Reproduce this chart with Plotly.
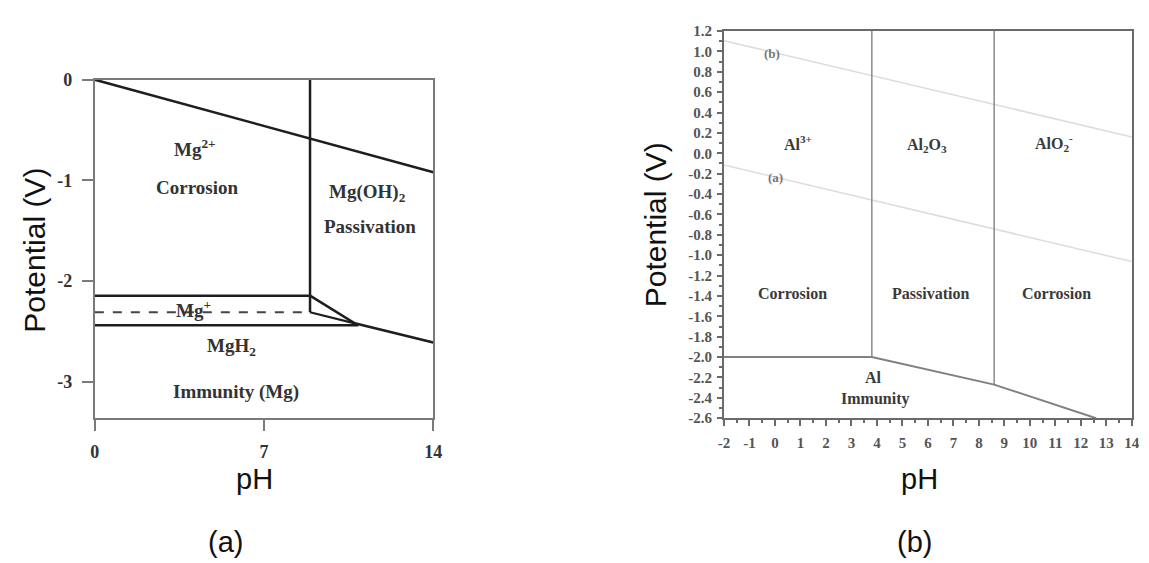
import plotly.graph_objects as go

W, H = 1149, 563

# ---------------- (a) Mg Pourbaix diagram data ----------------
mg_o2_ph = [0, 14]
mg_o2_v = [0, -0.92]
mg_vert_ph = [8.9, 8.9]
mg_vert_v = [0, -2.31]
mg_top_h_ph = [0, 8.9]
mg_top_h_v = [-2.145, -2.145]
mg_dash_ph = [0, 8.9]
mg_dash_v = [-2.31, -2.31]
mg_low_h_ph = [0, 10.9]
mg_low_h_v = [-2.44, -2.44]
mg_diag_ph = [8.9, 10.75, 14]
mg_diag_v = [-2.145, -2.42, -2.61]
mg_diag2_ph = [8.9, 10.75]
mg_diag2_v = [-2.31, -2.42]

mg_label_text = ["Mg<sup>2+</sup>", "Corrosion", "Mg(OH)<sub>2</sub>", "Passivation",
                 "Mg<sup>+</sup>", "MgH<sub>2</sub>", "Immunity (Mg)"]
mg_label_ph = [4.15, 4.22, 11.29, 11.36, 4.08, 5.65, 5.85]
mg_label_v = [-0.68, -1.066, -1.13, -1.463, -2.28, -2.66, -3.105]

mg_xticks = [0, 7, 14]
mg_xtick_text = ["0", "7", "14"]
mg_yticks = [0, -1, -2, -3]
mg_ytick_text = ["0", "-1", "-2", "-3"]

# ---------------- (b) Al Pourbaix diagram data ----------------
al_b_ph = [-2, 14]
al_b_v = [1.105, 0.16]
al_a_ph = [-2, 14]
al_a_v = [-0.115, -1.063]
al_v1_ph = [3.8, 3.8]
al_v1_v = [1.2, -2.0]
al_v2_ph = [8.6, 8.6]
al_v2_v = [1.2, -2.27]
al_bot_ph = [-2, 3.8, 8.6, 12.6]
al_bot_v = [-2.0, -2.0, -2.27, -2.6]

al_label_text = ["Al<sup>3+</sup>", "Al<sub>2</sub>O<sub>3</sub>", "AlO<sub>2</sub><sup>-</sup>",
                 "Corrosion", "Passivation", "Corrosion", "Al", "Immunity"]
al_label_ph = [0.92, 5.96, 10.95, 0.68, 6.12, 11.04, 3.87, 3.94]
al_label_v = [0.1, 0.08, 0.1, -1.374, -1.374, -1.38, -2.204, -2.416]

al_line_label_text = ["(b)", "(a)"]
al_line_label_ph = [-0.1, 0.03]
al_line_label_v = [0.98, -0.237]

al_xticks = [-2, -1, 0, 1, 2, 3, 4, 5, 6, 7, 8, 9, 10, 11, 12, 13, 14]
al_xtick_text = ["-2", "-1", "0", "1", "2", "3", "4", "5", "6", "7", "8", "9",
                 "10", "11", "12", "13", "14"]
al_yticks = [1.2, 1.0, 0.8, 0.6, 0.4, 0.2, 0.0, -0.2, -0.4, -0.6, -0.8, -1.0,
             -1.2, -1.4, -1.6, -1.8, -2.0, -2.2, -2.4, -2.6]
al_ytick_text = ["1.2", "1.0", "0.8", "0.6", "0.4", "0.2", "0.0", "-0.2", "-0.4",
                 "-0.6", "-0.8", "-1.0", "-1.2", "-1.4", "-1.6", "-1.8", "-2.0",
                 "-2.2", "-2.4", "-2.6"]

SERIF = "Liberation Serif, Times New Roman, serif"
SANS = "Liberation Sans, Arial, sans-serif"

fig = go.Figure()

def add_line(xs, ys, xa, ya, color, width, dash="solid"):
    fig.add_trace(go.Scatter(x=xs, y=ys, xaxis=xa, yaxis=ya, mode="lines",
                             line=dict(color=color, width=width, dash=dash),
                             showlegend=False, hoverinfo="skip", cliponaxis=True))

MGC = "#1e1e1e"
add_line(mg_o2_ph, mg_o2_v, "x", "y", MGC, 2.5)
add_line(mg_vert_ph, mg_vert_v, "x", "y", MGC, 2.5)
add_line(mg_top_h_ph, mg_top_h_v, "x", "y", MGC, 2.5)
add_line(mg_dash_ph, mg_dash_v, "x", "y", "#444", 2, "dash")
add_line(mg_low_h_ph, mg_low_h_v, "x", "y", MGC, 2.5)
add_line(mg_diag_ph, mg_diag_v, "x", "y", MGC, 2.5)
add_line(mg_diag2_ph, mg_diag2_v, "x", "y", MGC, 2.2)

add_line(al_b_ph, al_b_v, "x2", "y2", "#dcdcdc", 1.5)
add_line(al_a_ph, al_a_v, "x2", "y2", "#dcdcdc", 1.5)
add_line(al_v1_ph, al_v1_v, "x2", "y2", "#8a8a8a", 1.5)
add_line(al_v2_ph, al_v2_v, "x2", "y2", "#8a8a8a", 1.5)
add_line(al_bot_ph, al_bot_v, "x2", "y2", "#808080", 2)

annotations = []
for t, px, v in zip(mg_label_text, mg_label_ph, mg_label_v):
    annotations.append(dict(text=t, x=px, y=v, xref="x", yref="y", showarrow=False,
                            font=dict(family=SERIF, size=19, color="#333", weight="bold"),
                            xanchor="center", yanchor="middle"))
for t, px, v in zip(al_label_text, al_label_ph, al_label_v):
    annotations.append(dict(text=t, x=px, y=v, xref="x2", yref="y2", showarrow=False,
                            font=dict(family=SERIF, size=16, color="#3a3a3a", weight="bold"),
                            xanchor="center", yanchor="middle"))
for t, px, v in zip(al_line_label_text, al_line_label_ph, al_line_label_v):
    annotations.append(dict(text=t, x=px, y=v, xref="x2", yref="y2", showarrow=False,
                            font=dict(family=SERIF, size=13, color="#777", weight="bold"),
                            xanchor="center", yanchor="middle"))

def paper_text(text, px, py, size, angle=0):
    annotations.append(dict(text=text, x=px / W, y=1 - py / H, xref="paper", yref="paper",
                            showarrow=False, textangle=angle,
                            font=dict(family=SANS, size=size, color="#111"),
                            xanchor="center", yanchor="middle"))

paper_text("Potential (V)", 28, 248, 30, -90)
paper_text("Potential (V)", 658, 222, 30, -90)
paper_text("pH", 252, 484, 29)
paper_text("pH", 926, 484, 29)
paper_text("(a)", 222, 550, 29)
paper_text("(b)", 921, 550, 29)

fig.update_layout(
    width=W, height=H,
    margin=dict(l=0, r=0, t=0, b=0),
    paper_bgcolor="white", plot_bgcolor="white",
    showlegend=False,
    annotations=annotations,
    xaxis=dict(domain=[90 / W, 433 / W], range=[0, 14], anchor="y",
               tickvals=mg_xticks, ticktext=mg_xtick_text,
               showgrid=False, zeroline=False, showline=True, mirror=True,
               linecolor="#7a7a7a", linewidth=2, ticks="outside", ticklen=11,
               tickwidth=2, tickcolor="#7a7a7a", ticklabelstandoff=6,
               tickfont=dict(family=SERIF, size=18, color="#333", weight="bold")),
    yaxis=dict(domain=[1 - 421 / H, 1 - 72 / H], range=[-3.356, 0], anchor="x",
               tickvals=mg_yticks, ticktext=mg_ytick_text,
               showgrid=False, zeroline=False, showline=True, mirror=True,
               linecolor="#7a7a7a", linewidth=2, ticks="outside", ticklen=11,
               tickwidth=2, tickcolor="#7a7a7a", ticklabelstandoff=6,
               tickfont=dict(family=SERIF, size=18, color="#333", weight="bold")),
    xaxis2=dict(domain=[727.5 / W, 1140.7 / W], range=[-2, 14], anchor="y2",
                tickvals=al_xticks, ticktext=al_xtick_text,
                showgrid=False, zeroline=False, showline=True, mirror=True,
                linecolor="#6a6a6a", linewidth=2, ticks="outside", ticklen=6,
                tickwidth=1.5, tickcolor="#6a6a6a", ticklabelstandoff=4,
                minor=dict(dtick=0.5, ticks="outside", ticklen=3, tickcolor="#6a6a6a"),
                tickfont=dict(family=SERIF, size=15, color="#555", weight="bold")),
    yaxis2=dict(domain=[1 - 421.7 / H, 1 - 21.7 / H], range=[-2.6, 1.2], anchor="x2",
                tickvals=al_yticks, ticktext=al_ytick_text,
                showgrid=False, zeroline=False, showline=True, mirror=True,
                linecolor="#6a6a6a", linewidth=2, ticks="outside", ticklen=5,
                tickwidth=1.5, tickcolor="#6a6a6a", ticklabelstandoff=2,
                minor=dict(dtick=0.1, ticks="outside", ticklen=3, tickcolor="#6a6a6a"),
                tickfont=dict(family=SERIF, size=15, color="#555", weight="bold")),
)

fig.write_html("out.html")
